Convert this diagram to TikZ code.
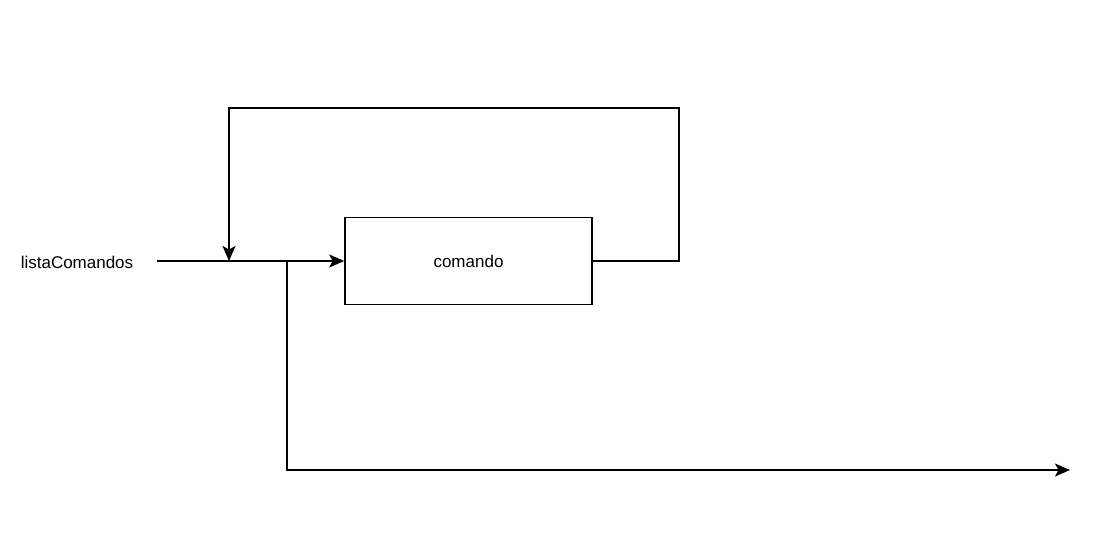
\documentclass[tikz,border=0pt]{standalone}
\usepackage{fontspec}
\setmainfont{Liberation Sans}
\usetikzlibrary{arrows.meta}
\begin{document}
\begin{tikzpicture}[x=1pt,y=-1pt,
  wire/.style={line width=1.6pt,draw=black},
  tip/.style={-{Stealth[length=15pt,width=13pt,inset=3.5pt]}},
  lbl/.style={font=\fontsize{17}{20}\selectfont,inner sep=0pt},
  box/.style={draw,line width=1.6pt,minimum width=247pt,minimum height=87pt,inner sep=0pt,font=\fontsize{17}{20}\selectfont}]
\useasboundingbox (0,0) rectangle (1098,540);
\node[lbl] (lista) at (77,262) {listaComandos};
\node[box] (cmd) at (468.5,261) {comando};
\coordinate (start) at (157,261);
\coordinate (join) at (229,261);
\coordinate (split) at (287,261);
\coordinate (out) at (1070,470);
\draw[wire,tip] (start) -- (cmd.west);
\draw[wire,tip] (cmd.east) -| (679,108) -| (join);
\draw[wire,tip] (split) |- (out);
\end{tikzpicture}
\end{document}
